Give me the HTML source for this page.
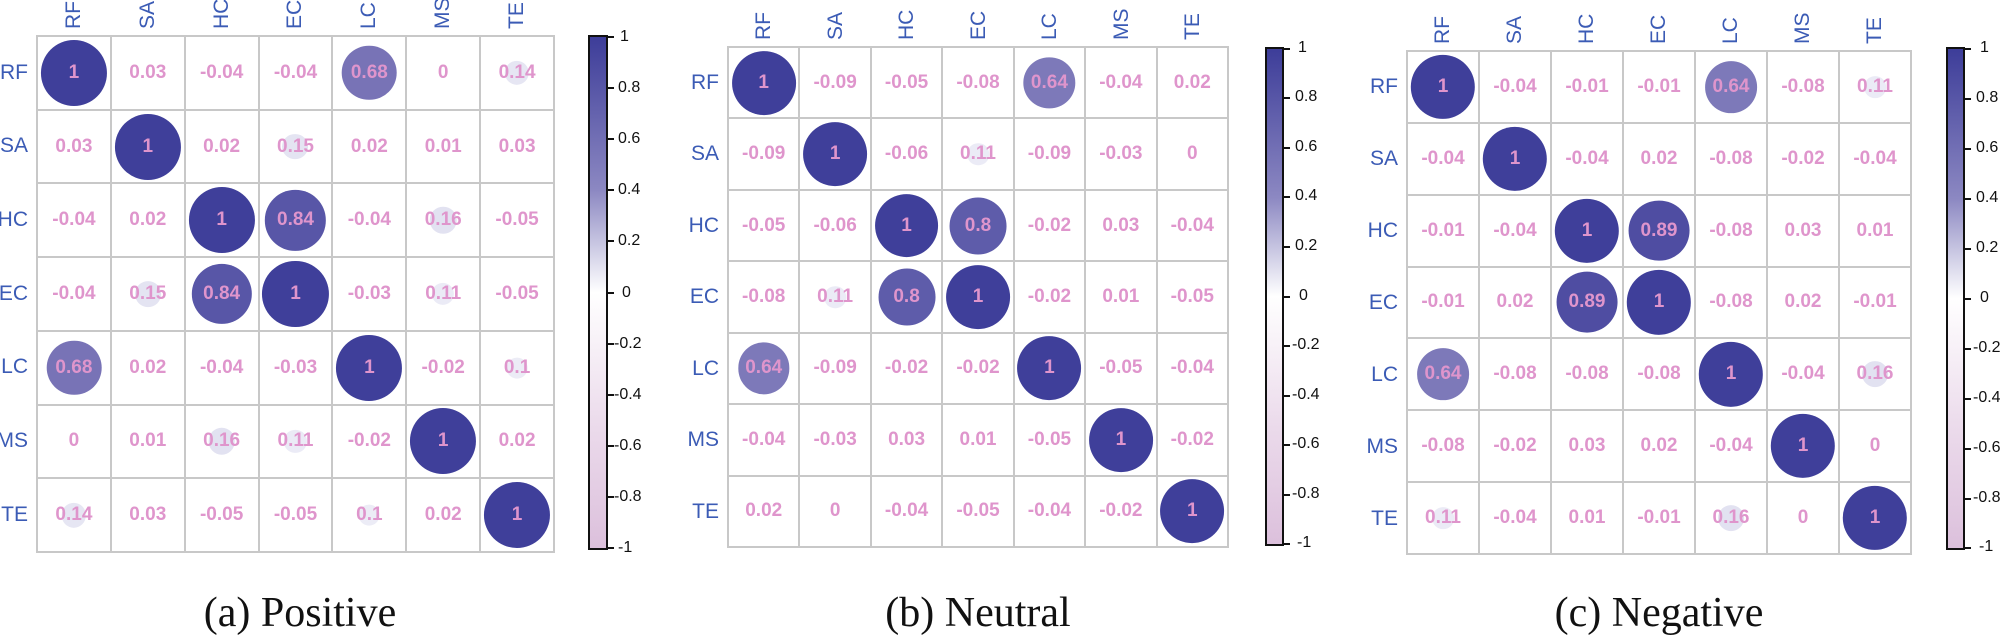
<!DOCTYPE html>
<html><head><meta charset="utf-8"><style>
*{margin:0;padding:0;box-sizing:border-box}
body{width:2000px;height:644px;background:#fff;position:relative;overflow:hidden;font-family:"Liberation Sans",sans-serif}
.g{position:absolute;display:grid;grid-template-columns:repeat(7,1fr);grid-template-rows:repeat(7,1fr);gap:2px;padding:2px;background:#c8c8c8}
.g>div{background:#fff;position:relative;display:flex;align-items:center;justify-content:center;font-weight:bold;font-size:19px;color:#df95cc}
.g>div i{position:absolute;left:50%;top:50%;transform:translate(-50%,-50%);border-radius:50%}
.g>div span{position:relative}
.d1{width:92%;height:92%;background:#3f3f9a}
.d89{width:87%;height:87%;background:#4f4da2}
.d84{width:84%;height:84%;background:#5856a7}
.d8{width:82%;height:82%;background:#5e5caa}
.d68{width:76%;height:76%;background:#7873b6}
.d64{width:74%;height:74%;background:#7d79b9}
.s16{width:37%;height:37%;background:#e2e2f1}
.s15{width:36%;height:36%;background:#e4e4f2}
.s14{width:34%;height:34%;background:#e6e6f3}
.s11{width:31%;height:31%;background:#ebebf6}
.s10{width:29%;height:29%;background:#ececf6}
.rl{position:absolute;color:#3b5bb5;font-size:21px;text-align:right;width:40px}
.cl{position:absolute;color:#3b5bb5;font-size:21px;transform:rotate(-90deg);transform-origin:left top;white-space:nowrap}
.cb{position:absolute;border:2px solid #111;background:linear-gradient(to bottom,#3d3d99 0%,#8c88c2 30%,#ffffff 50%,#ecdcec 75%,#dcc0dc 100%)}
.tk{position:absolute;width:6px;height:2px;background:#111}
.tl{position:absolute;font-size:16px;color:#111;line-height:16px}
.cap{position:absolute;top:588px;height:50px;line-height:50px;font-family:"Liberation Serif",serif;font-size:42px;color:#111;text-align:center;width:400px}
</style></head><body>

<!-- Panel A -->
<div class="g" style="left:36px;top:35px;width:519px;height:518px">
<div><i class="d1"></i><span>1</span></div><div>0.03</div><div>-0.04</div><div>-0.04</div><div><i class="d68"></i><span>0.68</span></div><div>0</div><div><i class="s14"></i><span>0.14</span></div>
<div>0.03</div><div><i class="d1"></i><span>1</span></div><div>0.02</div><div><i class="s15"></i><span>0.15</span></div><div>0.02</div><div>0.01</div><div>0.03</div>
<div>-0.04</div><div>0.02</div><div><i class="d1"></i><span>1</span></div><div><i class="d84"></i><span>0.84</span></div><div>-0.04</div><div><i class="s16"></i><span>0.16</span></div><div>-0.05</div>
<div>-0.04</div><div><i class="s15"></i><span>0.15</span></div><div><i class="d84"></i><span>0.84</span></div><div><i class="d1"></i><span>1</span></div><div>-0.03</div><div><i class="s11"></i><span>0.11</span></div><div>-0.05</div>
<div><i class="d68"></i><span>0.68</span></div><div>0.02</div><div>-0.04</div><div>-0.03</div><div><i class="d1"></i><span>1</span></div><div>-0.02</div><div><i class="s10"></i><span>0.1</span></div>
<div>0</div><div>0.01</div><div><i class="s16"></i><span>0.16</span></div><div><i class="s11"></i><span>0.11</span></div><div>-0.02</div><div><i class="d1"></i><span>1</span></div><div>0.02</div>
<div><i class="s14"></i><span>0.14</span></div><div>0.03</div><div>-0.05</div><div>-0.05</div><div><i class="s10"></i><span>0.1</span></div><div>0.02</div><div><i class="d1"></i><span>1</span></div>
</div>
<div class="rl" style="left:-12px;top:61px">RF</div>
<div class="rl" style="left:-12px;top:134px">SA</div>
<div class="rl" style="left:-12px;top:208px">HC</div>
<div class="rl" style="left:-12px;top:282px">EC</div>
<div class="rl" style="left:-12px;top:355px">LC</div>
<div class="rl" style="left:-12px;top:429px">MS</div>
<div class="rl" style="left:-12px;top:503px">TE</div>
<div class="cl" style="left:62px;top:29px">RF</div>
<div class="cl" style="left:136px;top:29px">SA</div>
<div class="cl" style="left:210px;top:29px">HC</div>
<div class="cl" style="left:283px;top:29px">EC</div>
<div class="cl" style="left:357px;top:29px">LC</div>
<div class="cl" style="left:431px;top:29px">MS</div>
<div class="cl" style="left:505px;top:29px">TE</div>

<div class="cb" style="left:588px;top:35px;width:20px;height:515px"></div>
<div class="tk" style="left:608px;top:36px"></div><div class="tl" style="left:620px;top:29px">1</div>
<div class="tk" style="left:608px;top:87px"></div><div class="tl" style="left:618px;top:80px">0.8</div>
<div class="tk" style="left:608px;top:138px"></div><div class="tl" style="left:618px;top:131px">0.6</div>
<div class="tk" style="left:608px;top:189px"></div><div class="tl" style="left:618px;top:182px">0.4</div>
<div class="tk" style="left:608px;top:240px"></div><div class="tl" style="left:618px;top:233px">0.2</div>
<div class="tk" style="left:608px;top:292px"></div><div class="tl" style="left:622px;top:285px">0</div>
<div class="tk" style="left:608px;top:343px"></div><div class="tl" style="left:614px;top:336px">-0.2</div>
<div class="tk" style="left:608px;top:394px"></div><div class="tl" style="left:614px;top:387px">-0.4</div>
<div class="tk" style="left:608px;top:445px"></div><div class="tl" style="left:614px;top:438px">-0.6</div>
<div class="tk" style="left:608px;top:496px"></div><div class="tl" style="left:614px;top:489px">-0.8</div>
<div class="tk" style="left:608px;top:547px"></div><div class="tl" style="left:618px;top:540px">-1</div>
<div class="cap" style="left:100px">(a) Positive</div>

<!-- Panel B -->
<div class="g" style="left:727px;top:46px;width:502px;height:502px">
<div><i class="d1"></i><span>1</span></div><div>-0.09</div><div>-0.05</div><div>-0.08</div><div><i class="d64"></i><span>0.64</span></div><div>-0.04</div><div>0.02</div>
<div>-0.09</div><div><i class="d1"></i><span>1</span></div><div>-0.06</div><div><i class="s11"></i><span>0.11</span></div><div>-0.09</div><div>-0.03</div><div>0</div>
<div>-0.05</div><div>-0.06</div><div><i class="d1"></i><span>1</span></div><div><i class="d8"></i><span>0.8</span></div><div>-0.02</div><div>0.03</div><div>-0.04</div>
<div>-0.08</div><div><i class="s11"></i><span>0.11</span></div><div><i class="d8"></i><span>0.8</span></div><div><i class="d1"></i><span>1</span></div><div>-0.02</div><div>0.01</div><div>-0.05</div>
<div><i class="d64"></i><span>0.64</span></div><div>-0.09</div><div>-0.02</div><div>-0.02</div><div><i class="d1"></i><span>1</span></div><div>-0.05</div><div>-0.04</div>
<div>-0.04</div><div>-0.03</div><div>0.03</div><div>0.01</div><div>-0.05</div><div><i class="d1"></i><span>1</span></div><div>-0.02</div>
<div>0.02</div><div>0</div><div>-0.04</div><div>-0.05</div><div>-0.04</div><div>-0.02</div><div><i class="d1"></i><span>1</span></div>
</div>
<div class="rl" style="left:679px;top:71px">RF</div>
<div class="rl" style="left:679px;top:142px">SA</div>
<div class="rl" style="left:679px;top:214px">HC</div>
<div class="rl" style="left:679px;top:285px">EC</div>
<div class="rl" style="left:679px;top:357px">LC</div>
<div class="rl" style="left:679px;top:428px">MS</div>
<div class="rl" style="left:679px;top:500px">TE</div>
<div class="cl" style="left:752px;top:40px">RF</div>
<div class="cl" style="left:824px;top:40px">SA</div>
<div class="cl" style="left:895px;top:40px">HC</div>
<div class="cl" style="left:967px;top:40px">EC</div>
<div class="cl" style="left:1038px;top:40px">LC</div>
<div class="cl" style="left:1110px;top:40px">MS</div>
<div class="cl" style="left:1181px;top:40px">TE</div>

<div class="cb" style="left:1265px;top:47px;width:19px;height:499px"></div>
<div class="tk" style="left:1284px;top:48px"></div><div class="tl" style="left:1298px;top:40px">1</div>
<div class="tk" style="left:1284px;top:97px"></div><div class="tl" style="left:1295px;top:89px">0.8</div>
<div class="tk" style="left:1284px;top:147px"></div><div class="tl" style="left:1295px;top:139px">0.6</div>
<div class="tk" style="left:1284px;top:196px"></div><div class="tl" style="left:1295px;top:188px">0.4</div>
<div class="tk" style="left:1284px;top:246px"></div><div class="tl" style="left:1295px;top:238px">0.2</div>
<div class="tk" style="left:1284px;top:296px"></div><div class="tl" style="left:1299px;top:288px">0</div>
<div class="tk" style="left:1284px;top:345px"></div><div class="tl" style="left:1292px;top:337px">-0.2</div>
<div class="tk" style="left:1284px;top:395px"></div><div class="tl" style="left:1292px;top:387px">-0.4</div>
<div class="tk" style="left:1284px;top:444px"></div><div class="tl" style="left:1292px;top:436px">-0.6</div>
<div class="tk" style="left:1284px;top:494px"></div><div class="tl" style="left:1292px;top:486px">-0.8</div>
<div class="tk" style="left:1284px;top:543px"></div><div class="tl" style="left:1297px;top:535px">-1</div>
<div class="cap" style="left:778px">(b) Neutral</div>

<!-- Panel C -->
<div class="g" style="left:1406px;top:50px;width:506px;height:505px">
<div><i class="d1"></i><span>1</span></div><div>-0.04</div><div>-0.01</div><div>-0.01</div><div><i class="d64"></i><span>0.64</span></div><div>-0.08</div><div><i class="s11"></i><span>0.11</span></div>
<div>-0.04</div><div><i class="d1"></i><span>1</span></div><div>-0.04</div><div>0.02</div><div>-0.08</div><div>-0.02</div><div>-0.04</div>
<div>-0.01</div><div>-0.04</div><div><i class="d1"></i><span>1</span></div><div><i class="d89"></i><span>0.89</span></div><div>-0.08</div><div>0.03</div><div>0.01</div>
<div>-0.01</div><div>0.02</div><div><i class="d89"></i><span>0.89</span></div><div><i class="d1"></i><span>1</span></div><div>-0.08</div><div>0.02</div><div>-0.01</div>
<div><i class="d64"></i><span>0.64</span></div><div>-0.08</div><div>-0.08</div><div>-0.08</div><div><i class="d1"></i><span>1</span></div><div>-0.04</div><div><i class="s16"></i><span>0.16</span></div>
<div>-0.08</div><div>-0.02</div><div>0.03</div><div>0.02</div><div>-0.04</div><div><i class="d1"></i><span>1</span></div><div>0</div>
<div><i class="s11"></i><span>0.11</span></div><div>-0.04</div><div>0.01</div><div>-0.01</div><div><i class="s16"></i><span>0.16</span></div><div>0</div><div><i class="d1"></i><span>1</span></div>
</div>
<div class="rl" style="left:1358px;top:75px">RF</div>
<div class="rl" style="left:1358px;top:147px">SA</div>
<div class="rl" style="left:1358px;top:219px">HC</div>
<div class="rl" style="left:1358px;top:291px">EC</div>
<div class="rl" style="left:1358px;top:363px">LC</div>
<div class="rl" style="left:1358px;top:435px">MS</div>
<div class="rl" style="left:1358px;top:507px">TE</div>
<div class="cl" style="left:1431px;top:44px">RF</div>
<div class="cl" style="left:1503px;top:44px">SA</div>
<div class="cl" style="left:1575px;top:44px">HC</div>
<div class="cl" style="left:1647px;top:44px">EC</div>
<div class="cl" style="left:1719px;top:44px">LC</div>
<div class="cl" style="left:1791px;top:44px">MS</div>
<div class="cl" style="left:1863px;top:44px">TE</div>

<div class="cb" style="left:1946px;top:47px;width:19px;height:503px"></div>
<div class="tk" style="left:1965px;top:48px"></div><div class="tl" style="left:1980px;top:40px">1</div>
<div class="tk" style="left:1965px;top:98px"></div><div class="tl" style="left:1976px;top:90px">0.8</div>
<div class="tk" style="left:1965px;top:148px"></div><div class="tl" style="left:1976px;top:140px">0.6</div>
<div class="tk" style="left:1965px;top:198px"></div><div class="tl" style="left:1976px;top:190px">0.4</div>
<div class="tk" style="left:1965px;top:248px"></div><div class="tl" style="left:1976px;top:240px">0.2</div>
<div class="tk" style="left:1965px;top:298px"></div><div class="tl" style="left:1980px;top:290px">0</div>
<div class="tk" style="left:1965px;top:348px"></div><div class="tl" style="left:1973px;top:340px">-0.2</div>
<div class="tk" style="left:1965px;top:398px"></div><div class="tl" style="left:1973px;top:390px">-0.4</div>
<div class="tk" style="left:1965px;top:448px"></div><div class="tl" style="left:1973px;top:440px">-0.6</div>
<div class="tk" style="left:1965px;top:498px"></div><div class="tl" style="left:1973px;top:490px">-0.8</div>
<div class="tk" style="left:1965px;top:547px"></div><div class="tl" style="left:1979px;top:539px">-1</div>
<div class="cap" style="left:1459px">(c) Negative</div>
</body></html>
